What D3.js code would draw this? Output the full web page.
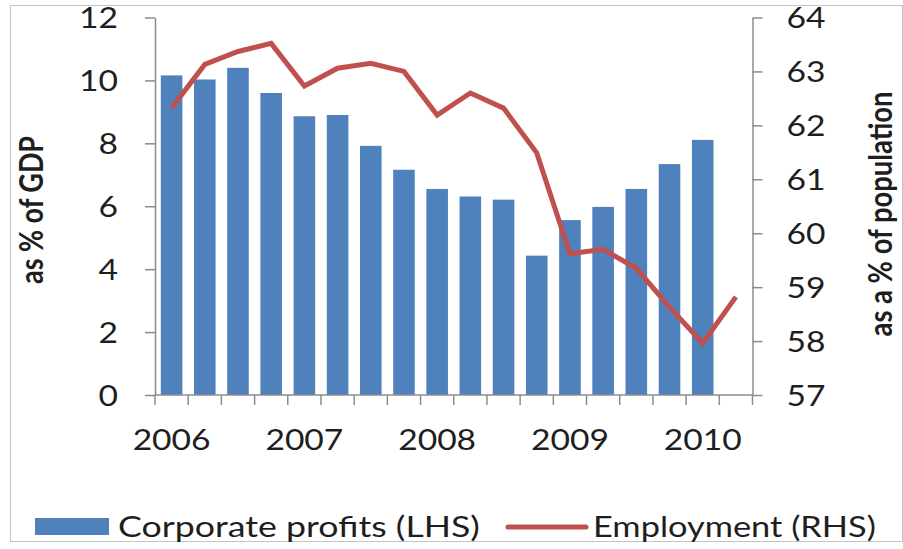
<!DOCTYPE html>
<html>
<head>
<meta charset="utf-8">
<script src="https://cdn.jsdelivr.net/npm/d3@7"></script>
<style>
  html, body { margin: 0; padding: 0; background: #fff; }
  svg { display: block; }
  text { font-family: Lato, "Open Sans", sans-serif; fill: #1e1e1e; }
</style>
</head>
<body>
<svg id="chart" width="903" height="549"></svg>
<script>
// Quarterly categories, 2006Q1 – 2010Q2
const quarters = [
  "2006Q1", "2006Q2", "2006Q3", "2006Q4",
  "2007Q1", "2007Q2", "2007Q3", "2007Q4",
  "2008Q1", "2008Q2", "2008Q3", "2008Q4",
  "2009Q1", "2009Q2", "2009Q3", "2009Q4",
  "2010Q1", "2010Q2"
];
// Year labels shown under the first quarter of each year
const yearLabels = { "2006Q1": "2006", "2007Q1": "2007", "2008Q1": "2008", "2009Q1": "2009", "2010Q1": "2010" };

// Corporate profits, % of GDP (left axis); latest quarter not yet available
const profits = [10.16, 10.03, 10.40, 9.60, 8.86, 8.90, 7.92, 7.16, 6.55, 6.31, 6.21, 4.43, 5.56, 5.98, 6.55, 7.34, 8.11, null];
// Employment, % of population (right axis)
const employment = [62.32, 63.13, 63.37, 63.52, 62.73, 63.06, 63.15, 63.00, 62.19, 62.60, 62.32, 61.49, 59.62, 59.70, 59.35, 58.63, 57.96, 58.82];

const leftTicks = [0, 2, 4, 6, 8, 10, 12];
const rightTicks = [57, 58, 59, 60, 61, 62, 63, 64];

const seriesNames = ["Corporate profits (LHS)", "Employment (RHS)"];
const barColor = "#4f81bd";
const lineColor = "#c0504d";
const axisColor = "#8c8c8c";
const SX = 1.2; // horizontal text stretch

const svg = d3.select("#chart");

// outer frame
svg.append("rect")
  .attr("x", 10.5).attr("y", 5.5).attr("width", 892).attr("height", 536)
  .attr("fill", "#fff").attr("stroke", "#c4c4c4").attr("stroke-width", 1);

const plot = { left: 155, right: 752.5, top: 17.5, bottom: 395 };

const x = d3.scaleBand()
  .domain(quarters)
  .range([plot.left, plot.right])
  .paddingInner(0.35)
  .paddingOuter(0.175);

const yL = d3.scaleLinear().domain([0, 12]).range([plot.bottom, plot.top]);
const yR = d3.scaleLinear().domain([57, 64]).range([plot.bottom, plot.top]);

// stretch a text element horizontally about its own x position
function stretchText(sel, sx = SX) {
  sel.each(function () {
    const t = d3.select(this);
    const tx = +t.attr("x") || 0;
    t.attr("transform", `matrix(${sx},0,0,1,${tx * (1 - sx)},0)`);
  });
}
// stretch so that the text spans a given width
function fitWidth(sel, width) {
  sel.each(function () {
    const w = this.getComputedTextLength();
    stretchText(d3.select(this), width / w);
  });
}

// bars
svg.append("g")
  .selectAll("rect")
  .data(quarters.map((q, i) => ({ q, v: profits[i] })).filter(d => d.v != null))
  .join("rect")
  .attr("x", d => x(d.q))
  .attr("width", x.bandwidth())
  .attr("y", d => yL(d.v))
  .attr("height", d => yL(0) - yL(d.v))
  .attr("fill", barColor);

// employment line
const line = d3.line()
  .x((d, i) => x(quarters[i]) + x.bandwidth() / 2)
  .y(d => yR(d));

svg.append("path")
  .datum(employment)
  .attr("d", line)
  .attr("fill", "none")
  .attr("stroke", lineColor)
  .attr("stroke-width", 5)
  .attr("stroke-linejoin", "miter")
  .attr("stroke-linecap", "butt");

// left axis
const gL = svg.append("g")
  .attr("transform", `translate(${plot.left},0)`)
  .call(d3.axisLeft(yL).tickValues(leftTicks).tickFormat(d3.format("d"))
    .tickSize(10).tickPadding(27).tickSizeOuter(0));
// right axis
const gR = svg.append("g")
  .attr("transform", `translate(${plot.right},0)`)
  .call(d3.axisRight(yR).tickValues(rightTicks).tickFormat(d3.format("d"))
    .tickSize(10).tickPadding(24).tickSizeOuter(0));

[gL, gR].forEach(g => {
  g.select(".domain").attr("stroke", axisColor).attr("stroke-width", 1.5);
  g.selectAll(".tick line").attr("stroke", axisColor).attr("stroke-width", 1.5);
  g.selectAll(".tick text")
    .style("font-size", "28px")
    .attr("dy", "0.36em")
    .attr("fill", "#1e1e1e")
    .call(stretchText);
});

// bottom axis: boundary ticks between quarters
const gB = svg.append("g");
gB.append("line")
  .attr("x1", plot.left).attr("x2", plot.right)
  .attr("y1", plot.bottom).attr("y2", plot.bottom)
  .attr("stroke", axisColor).attr("stroke-width", 1.5);
const boundaries = quarters.map(q => x(q) - x.step() * x.paddingInner() / 2);
boundaries.push(plot.right);
gB.selectAll("line.tk")
  .data(boundaries)
  .join("line")
  .attr("class", "tk")
  .attr("x1", d => d).attr("x2", d => d)
  .attr("y1", plot.bottom).attr("y2", plot.bottom + 10)
  .attr("stroke", axisColor).attr("stroke-width", 1.5);

gB.selectAll("text")
  .data(quarters.filter(q => yearLabels[q]))
  .join("text")
  .attr("x", q => x(q) + x.bandwidth() / 2)
  .attr("y", 440)
  .attr("dy", "0.36em")
  .attr("text-anchor", "middle")
  .style("font-size", "28px")
  .text(q => yearLabels[q])
  .call(stretchText);

// axis titles (rotated; font size chosen so the title spans its length)
function axisTitle(label, cx, cy, length) {
  const t = svg.append("text")
    .attr("text-anchor", "middle")
    .attr("dy", "0.35em")
    .style("font-size", "24px")
    .style("font-weight", "bold")
    .text(label);
  const w = t.node().getComputedTextLength();
  t.style("font-size", (24 * length / w).toFixed(2) + "px")
    .attr("transform", `translate(${cx},${cy}) scale(${SX},1) rotate(-90)`);
}
axisTitle("as % of GDP", 32, 210, 148);
axisTitle("as a % of population", 881, 214, 245);

// legend
const lg = svg.append("g");
lg.append("rect")
  .attr("x", 35).attr("y", 518).attr("width", 74).attr("height", 17)
  .attr("fill", barColor);
lg.append("text")
  .attr("x", 118).attr("y", 527).attr("dy", "0.36em")
  .style("font-size", "28px")
  .text(seriesNames[0])
  .call(fitWidth, 362);
lg.append("line")
  .attr("x1", 508).attr("x2", 586).attr("y1", 527).attr("y2", 527)
  .attr("stroke", lineColor).attr("stroke-width", 5).attr("stroke-linecap", "round");
lg.append("text")
  .attr("x", 593).attr("y", 527).attr("dy", "0.36em")
  .style("font-size", "28px")
  .text(seriesNames[1])
  .call(fitWidth, 283);
</script>
</body>
</html>
